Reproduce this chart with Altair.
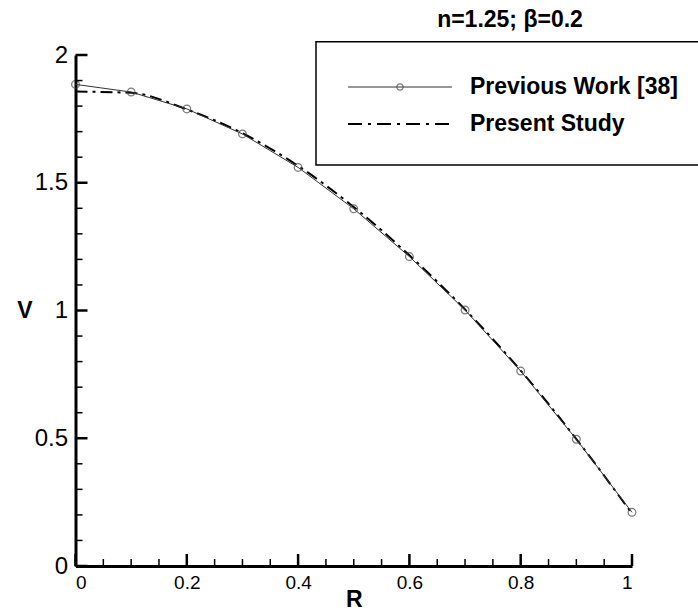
import altair as alt
import pandas as pd

# ---- data ----
prev_R = [0.0, 0.1, 0.2, 0.3, 0.4, 0.5, 0.6, 0.7, 0.8, 0.9, 1.0]
prev_V = [1.885, 1.855, 1.789, 1.691, 1.560, 1.398, 1.211, 1.002, 0.763, 0.496, 0.210]

pres_R = [0.0, 0.1, 0.2, 0.3, 0.4, 0.5, 0.6, 0.7, 0.8, 0.9, 1.0]
pres_V = [1.857, 1.852, 1.787, 1.694, 1.566, 1.405, 1.216, 1.004, 0.765, 0.497, 0.205]

x_major = [0.0, 0.2, 0.4, 0.6, 0.8, 1.0]
x_minor = [0.05, 0.1, 0.15, 0.25, 0.3, 0.35, 0.45, 0.5, 0.55, 0.65, 0.7, 0.75, 0.85, 0.9, 0.95]
y_major = [0.0, 0.5, 1.0, 1.5, 2.0]
y_minor = [0.1, 0.2, 0.3, 0.4, 0.6, 0.7, 0.8, 0.9, 1.1, 1.2, 1.3, 1.4, 1.6, 1.7, 1.8, 1.9]

title_text = "n=1.25; β=0.2"
legend_labels = ["Previous Work [38]", "Present Study"]

FONT = "Liberation Sans"
W, H = 556.5, 511
MAJ, MIN = 12, 7

prev_df = pd.DataFrame({"R": prev_R, "V": prev_V})
pres_df = pd.DataFrame({"R": pres_R, "V": pres_V})

xs = alt.Scale(domain=[0, 1], nice=False, zero=False)
ys = alt.Scale(domain=[0, 2], nice=False, zero=False)

x_axis = alt.Axis(values=x_major, format="~g", ticks=False, grid=False,
                  domainColor="black", domainWidth=3,
                  labelFont=FONT, labelFontSize=19, labelColor="black", labelPadding=7,
                  title="R", titleFont=FONT, titleFontSize=23, titleFontWeight="bold",
                  titleColor="black", titleY=33, titleBaseline="middle")
y_axis = alt.Axis(values=y_major, format="~g", ticks=False, grid=False,
                  domainColor="black", domainWidth=3,
                  labelFont=FONT, labelFontSize=24, labelColor="black", labelPadding=8,
                  title="V", titleFont=FONT, titleFontSize=23, titleFontWeight="bold",
                  titleColor="black", titleAngle=0, titleX=-51, titleY=H / 2,
                  titleAlign="center", titleBaseline="middle")

present_line = alt.Chart(pres_df).mark_line(
    color="black", strokeWidth=2, strokeDash=[12, 5, 3, 5], interpolate="monotone"
).encode(
    x=alt.X("R:Q", scale=xs, axis=x_axis),
    y=alt.Y("V:Q", scale=ys, axis=y_axis),
)

prev_line = alt.Chart(prev_df).mark_line(color="#333333", strokeWidth=1).encode(
    x=alt.X("R:Q", scale=xs), y=alt.Y("V:Q", scale=ys))
prev_pts = alt.Chart(prev_df).mark_point(
    shape="circle", filled=False, color="#444444", size=60, strokeWidth=1.2
).encode(x=alt.X("R:Q", scale=xs), y=alt.Y("V:Q", scale=ys))

# inward tick marks
xmaj = alt.Chart(pd.DataFrame({"R": x_major})).mark_rule(color="#000000", strokeWidth=2.5).encode(
    x=alt.X("R:Q", scale=xs), y=alt.value(H), y2=alt.value(H - MAJ))
xmin = alt.Chart(pd.DataFrame({"R": x_minor})).mark_rule(color="#000000", strokeWidth=1.5).encode(
    x=alt.X("R:Q", scale=xs), y=alt.value(H), y2=alt.value(H - MIN))
ymaj = alt.Chart(pd.DataFrame({"V": y_major})).mark_rule(color="#000000", strokeWidth=2.5).encode(
    y=alt.Y("V:Q", scale=ys), x=alt.value(0), x2=alt.value(MAJ))
ymin = alt.Chart(pd.DataFrame({"V": y_minor})).mark_rule(color="#000000", strokeWidth=1.5).encode(
    y=alt.Y("V:Q", scale=ys), x=alt.value(0), x2=alt.value(MIN))

one = pd.DataFrame({"a": [0]})

# title
title = alt.Chart(pd.DataFrame({"t": [title_text]})).mark_text(
    font=FONT, fontSize=23, fontWeight="bold", color="black", align="center", baseline="middle"
).encode(text="t:N", x=alt.value(434.5), y=alt.value(-35))

# legend box
box = alt.Chart(one).mark_rect(
    fill="white", stroke="black", strokeWidth=1.5
).encode(x=alt.value(240.5), x2=alt.value(660), y=alt.value(-13.3), y2=alt.value(110))

leg_line1 = alt.Chart(one).mark_rule(color="#333333", strokeWidth=1).encode(
    x=alt.value(272.5), x2=alt.value(376.5), y=alt.value(32))
leg_pt1 = alt.Chart(one).mark_point(
    shape="circle", filled=False, color="#444444", size=40, strokeWidth=1.2
).encode(x=alt.value(324.5), y=alt.value(32))
leg_line2 = alt.Chart(one).mark_rule(
    color="black", strokeWidth=2, strokeDash=[14, 6, 3, 6]).encode(
    x=alt.value(272.5), x2=alt.value(376.5), y=alt.value(69))

def leg_text(label, ypos):
    return alt.Chart(pd.DataFrame({"label": [label]})).mark_text(
        font=FONT, fontSize=23, fontWeight="bold", color="black", align="left", baseline="middle"
    ).encode(text="label:N", x=alt.value(394.5), y=alt.value(ypos))

chart = alt.layer(
    present_line, prev_line, prev_pts,
    box, leg_line1, leg_pt1, leg_line2,
    leg_text(legend_labels[0], 32), leg_text(legend_labels[1], 69), title,
    xmaj, xmin, ymaj, ymin,
).properties(
    width=W, height=H,
    autosize=alt.AutoSizeParams(type="none"),
    padding={"left": 75.5, "top": 55, "right": 66, "bottom": 46},
    background="white",
).configure_view(strokeWidth=0)

chart.save("out.html", embed_options={"renderer": "svg", "actions": False})
